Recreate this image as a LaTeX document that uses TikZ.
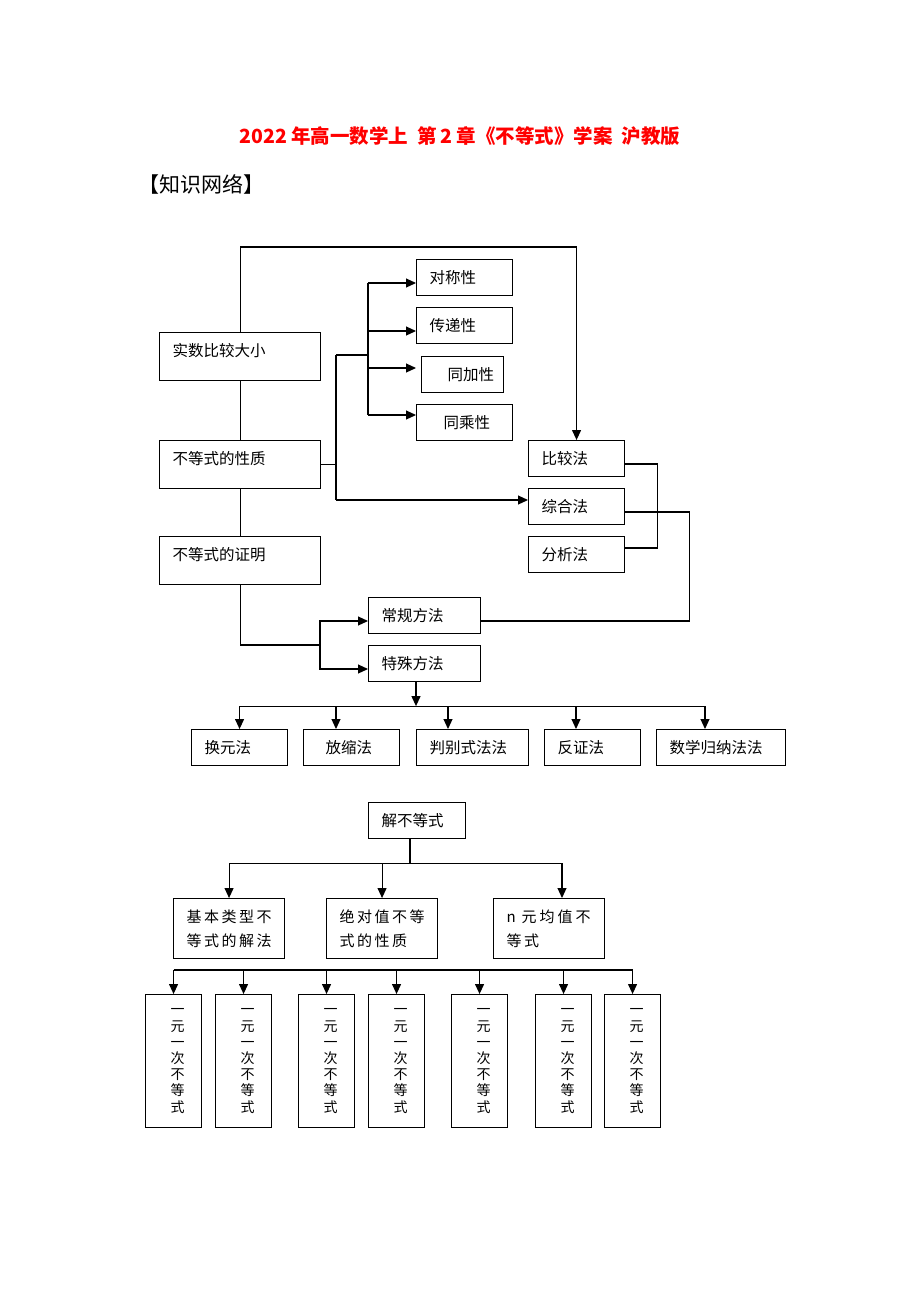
\documentclass[tikz,border=0pt]{standalone}
\usepackage{fontspec}
\setmainfont{Noto Sans CJK SC}
\usetikzlibrary{arrows.meta,calc}
\newcommand\boxfont{\fontsize{15.5}{18}\selectfont}
\newcommand\vtext{\hspace*{8pt}\parbox{15pt}{\fontsize{14}{16.2}\selectfont\centering 一\\元\\一\\次\\不\\等\\式}}
\begin{document}
\begin{tikzpicture}[x=1pt,y=-1pt,
  bx/.style={draw, line width=1.1pt, anchor=north west, inner xsep=13pt, inner ysep=0pt, align=left, font=\boxfont},
  sm/.style={bx, text height=23.5pt, text depth=12.5pt},
  big/.style={bx, text height=23.5pt, text depth=24.5pt},
  mid/.style={bx, minimum height=60pt, font=\fontsize{15}{24}\selectfont},
  tall/.style={draw, line width=1.1pt, anchor=north west, inner sep=0pt, minimum width=56pt, minimum height=133pt},
  ln/.style={line width=1.1pt},
  arr/.style={line width=1.1pt, -{Triangle[length=10pt,width=9pt]}}]
\useasboundingbox (0,0) rectangle (920,1302);

\node[font=\fontsize{19.5}{22}\selectfont\bfseries, text=red] (title) at (460,136) {2022\hspace{4pt}年高一数学上\hspace{9pt}第\hspace{4pt}2\hspace{4pt}章《不等式》学案\hspace{9pt}沪教版};
\node[anchor=west, inner sep=0pt, font=\fontsize{21}{24}\selectfont] (zsnet) at (138,184) {【知识网络】};

% left column
\node[big, text width=135pt] (shishu) at (159,332) {实数比较大小};
\node[big, text width=135pt] (xingzhi) at (159,440) {不等式的性质};
\node[big, text width=135pt] (zhengming) at (159,536) {不等式的证明};

% properties
\node[sm, text width=70pt] (duichen) at (416,259) {对称性};
\node[sm, text width=70pt] (chuandi) at (416,307) {传递性};
\node[sm, text width=56pt] (tongjia) at (421,356) {\hspace*{13pt}同加性};
\node[sm, text width=70pt] (tongcheng) at (416,404) {\hspace*{14pt}同乘性};

% methods
\node[sm, text width=70pt] (bijiao) at (528,440) {比较法};
\node[sm, text width=70pt] (zonghe) at (528,488) {综合法};
\node[sm, text width=70pt] (fenxi) at (528,536) {分析法};
\node[sm, text width=86pt] (changgui) at (368,597) {常规方法};
\node[sm, text width=86pt] (teshu) at (368,645) {特殊方法};

\node[sm, text width=70pt] (huanyuan) at (191,729) {换元法};
\node[sm, text width=70pt] (fangsuo) at (303,729) {\hspace*{9pt}放缩法};
\node[sm, text width=86pt] (panbie) at (416,729) {判别式法法};
\node[sm, text width=70pt] (fanzheng) at (544,729) {反证法};
\node[sm, text width=103pt] (guina) at (656,729) {数学归纳法法};

% second diagram
\node[sm, text width=71pt] (jie) at (368,802) {解不等式};
\node[mid, text width=85pt] (jiben) at (173,898) {基\hspace{2.5pt}本\hspace{2.5pt}类\hspace{2.5pt}型\hspace{2.5pt}不\\等\hspace{2.5pt}式\hspace{2.5pt}的\hspace{2.5pt}解\hspace{2.5pt}法};
\node[mid, text width=85pt] (jueduizhi) at (326,898) {绝\hspace{2.5pt}对\hspace{2.5pt}值\hspace{2.5pt}不\hspace{2.5pt}等\\式\hspace{2.5pt}的\hspace{2.5pt}性\hspace{2.5pt}质};
\node[mid, text width=85pt] (nyuan) at (493,898) {n\hspace{6pt}元\hspace{3pt}均\hspace{3pt}值\hspace{3pt}不\\等\hspace{2.5pt}式};

\node[tall] (y1) at (145,994) {\vtext};
\node[tall] (y2) at (215,994) {\vtext};
\node[tall] (y3) at (298,994) {\vtext};
\node[tall] (y4) at (368,994) {\vtext};
\node[tall] (y5) at (451,994) {\vtext};
\node[tall] (y6) at (535,994) {\vtext};
\node[tall] (y7) at (604,994) {\vtext};

% ---- connectors, first diagram
\draw[arr] (shishu.north) -- ++(0,-85) -| (bijiao.north);
\draw[ln] (shishu.south) -- (xingzhi.north);
\draw[ln] (xingzhi.south) -- (zhengming.north);

\coordinate (pA) at (336,355);
\coordinate (pB) at (336,500);
\coordinate (pV) at (368,355);
\coordinate (a1) at ($(duichen.north west)+(0,24)$);
\coordinate (a2) at ($(chuandi.north west)+(0,24)$);
\coordinate (a3) at ($(tongjia.north west)+(-5,12)$);
\coordinate (a4) at ($(tongcheng.north west)+(0,11)$);
\coordinate (a5) at ($(zonghe.north west)+(0,12)$);
\draw[ln] (xingzhi.east) -- (xingzhi.east -| pA);
\draw[ln] (pA) -- (pB);
\draw[ln] (pA) -- (pV);
\draw[ln] (pV |- a1) -- (pV |- a4);
\draw[arr] (pV |- a1) -- (a1);
\draw[arr] (pV |- a2) -- (a2);
\draw[arr] (pV |- a3) -- (a3);
\draw[arr] (pV |- a4) -- (a4);
\draw[arr] (pB) -- (a5);

\coordinate (bjR) at ($(bijiao.north east)+(0,24)$);
\coordinate (fxR) at ($(fenxi.north east)+(0,12)$);
\draw[ln] (bjR) -- ++(32,0) |- (fxR);
\coordinate (zhR) at ($(zonghe.north east)+(0,24)$);
\coordinate (cgR) at ($(changgui.north east)+(0,24)$);
\draw[ln] (zhR) -- ++(64,0) |- (cgR);

\coordinate (fork) at (320,645);
\coordinate (cgL) at ($(changgui.north west)+(0,24)$);
\coordinate (tsL) at ($(teshu.north west)+(0,24)$);
\draw[ln] (zhengming.south) |- (fork);
\draw[arr] (fork) |- (cgL);
\draw[arr] (fork) |- (tsL);

\coordinate (tsB) at ($(teshu.south west)+(48,0)$);
\coordinate (barM) at ($(tsB)+(0,24)$);
\draw[arr] (tsB) -- (barM);
\coordinate (f1) at ($(fangsuo.north west)+(33,0)$);
\coordinate (p1) at ($(panbie.north west)+(32,0)$);
\coordinate (z1) at ($(fanzheng.north west)+(32,0)$);
\coordinate (g1) at ($(guina.north west)+(49,0)$);
\draw[ln] (huanyuan.north |- barM) -- (g1 |- barM);
\draw[arr] (huanyuan.north |- barM) -- (huanyuan.north);
\draw[arr] (f1 |- barM) -- (f1);
\draw[arr] (p1 |- barM) -- (p1);
\draw[arr] (z1 |- barM) -- (z1);
\draw[arr] (g1 |- barM) -- (g1);

% ---- connectors, second diagram
\coordinate (jB) at ($(jie.south west)+(42,0)$);
\coordinate (jM) at ($(jB)+(0,24)$);
\coordinate (nT) at ($(nyuan.north west)+(69,0)$);
\draw[ln] (jB) -- (jM);
\draw[ln] (jiben.north |- jM) -- (nT |- jM);
\draw[arr] (jiben.north |- jM) -- (jiben.north);
\draw[arr] (jueduizhi.north |- jM) -- (jueduizhi.north);
\draw[arr] (nT |- jM) -- (nT);

\coordinate (b3) at (0,970);
\draw[ln] (y1.north |- b3) -- (y7.north |- b3);
\foreach \i in {1,...,7} {\draw[arr] (y\i.north |- b3) -- (y\i.north);}
\end{tikzpicture}
\end{document}
